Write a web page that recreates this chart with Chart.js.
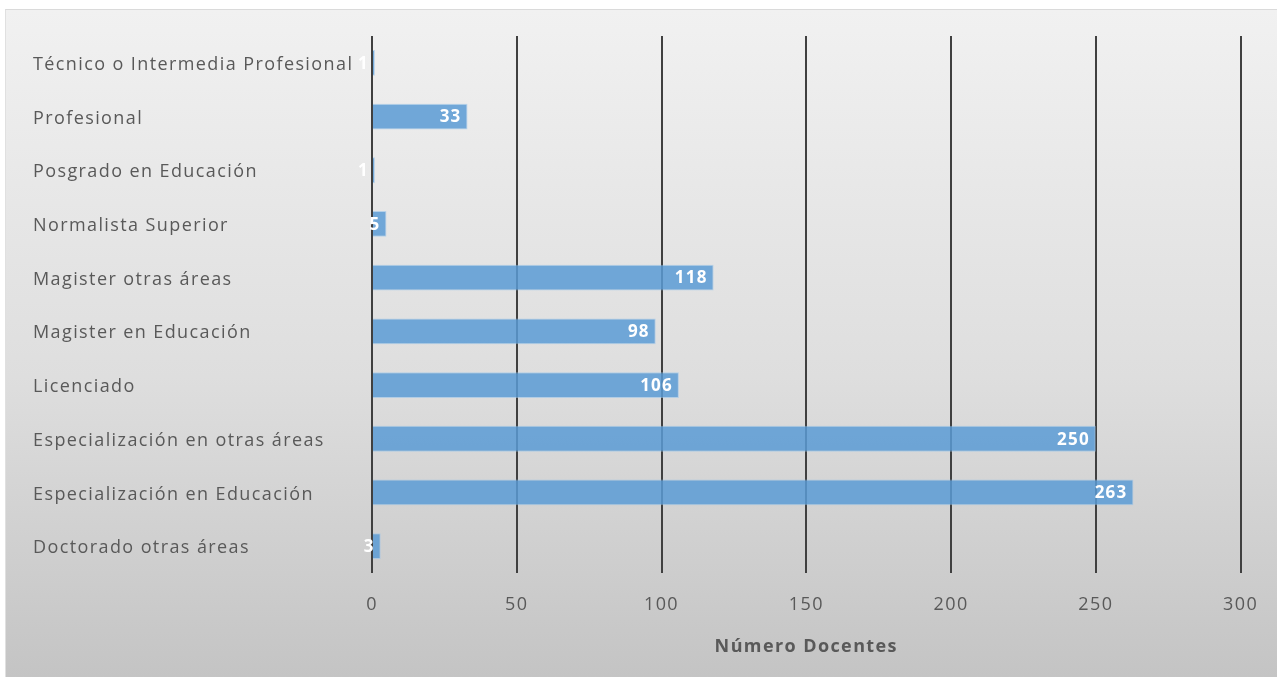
<!DOCTYPE html>
<html lang="es">

<head>
    <meta charset="UTF-8">
    <title>Número Docentes por nivel de formación</title>
    <script src="https://cdn.jsdelivr.net/npm/chart.js"></script>
    <style>
        html, body { margin: 0; padding: 0; background: #fff; }
        .chart-box {
            position: absolute;
            left: 5px;
            top: 9px;
            width: 1272px;
            height: 668px;
            background: linear-gradient(to bottom, #f1f1f1 0%, #dedede 55%, #c4c4c4 100%);
            border-top: 1px solid #dadada;
            border-left: 1px solid #e0e0e0;
            box-sizing: border-box;
        }
        canvas { display: block; }
    </style>
</head>

<body>
    <div class="chart-box">
        <canvas id="graficoDocentes" width="1271" height="667"></canvas>
    </div>

<script>
    const niveles = [
        'Técnico o Intermedia Profesional',
        'Profesional',
        'Posgrado en Educación',
        'Normalista Superior',
        'Magister otras áreas',
        'Magister en Educación',
        'Licenciado',
        'Especialización en otras áreas',
        'Especialización en Educación',
        'Doctorado otras áreas'
    ];
    const docentes = [1, 33, 1, 5, 118, 98, 106, 250, 263, 3];
    const ticksX = [0, 50, 100, 150, 200, 250, 300];

    const fuente = "'Open Sans', 'Noto Sans', sans-serif";

    // texto algo más espaciado en todo el gráfico
    const espaciado = {
        id: 'espaciado',
        beforeDraw(chart) {
            chart.ctx.letterSpacing = '1.4px';
        }
    };

    // etiqueta blanca al final de cada barra
    const etiquetas = {
        id: 'etiquetas',
        afterDatasetsDraw(chart) {
            const ctx = chart.ctx;
            const meta = chart.getDatasetMeta(0);
            ctx.save();
            ctx.letterSpacing = '1.2px';
            ctx.font = 'bold 17px ' + fuente;
            ctx.fillStyle = '#ffffff';
            ctx.textAlign = 'right';
            ctx.textBaseline = 'middle';
            meta.data.forEach((barra, i) => {
                ctx.fillText(String(docentes[i]), barra.x - 6, barra.y + 1);
            });
            ctx.restore();
        }
    };

    const ctx = document.getElementById('graficoDocentes').getContext('2d');
    new Chart(ctx, {
        type: 'bar',
        data: {
            labels: niveles,
            datasets: [{
                data: docentes,
                backgroundColor: 'rgba(91, 155, 213, 0.85)',
                borderColor: 'rgba(150, 195, 235, 0.6)',
                borderWidth: 1,
                barPercentage: 0.48,
                categoryPercentage: 1
            }]
        },
        options: {
            responsive: false,
            animation: false,
            indexAxis: 'y',
            layout: {
                padding: { left: 27, right: 33, top: 26, bottom: 19 }
            },
            plugins: {
                legend: { display: false },
                tooltip: { enabled: false }
            },
            scales: {
                x: {
                    min: 0,
                    max: 300,
                    afterBuildTicks(scale) {
                        scale.ticks = ticksX.map(v => ({ value: v }));
                    },
                    afterFit(scale) {
                        scale.height = 85;
                    },
                    grid: {
                        color: '#404040',
                        lineWidth: 2,
                        drawTicks: false
                    },
                    border: { display: false },
                    ticks: {
                        color: '#595959',
                        padding: 21,
                        font: { family: fuente, size: 18 }
                    },
                    title: {
                        display: true,
                        text: 'Número Docentes',
                        color: '#595959',
                        padding: { top: 14, bottom: 0 },
                        font: { family: fuente, size: 18, weight: 'bold' }
                    }
                },
                y: {
                    afterFit(scale) {
                        scale.width = 339;
                    },
                    grid: { display: false },
                    border: { display: false },
                    ticks: {
                        crossAlign: 'far',
                        labelOffset: 2,
                        color: '#595959',
                        font: { family: fuente, size: 18 }
                    }
                }
            }
        },
        plugins: [espaciado, etiquetas]
    });
</script>
</body>

</html>
